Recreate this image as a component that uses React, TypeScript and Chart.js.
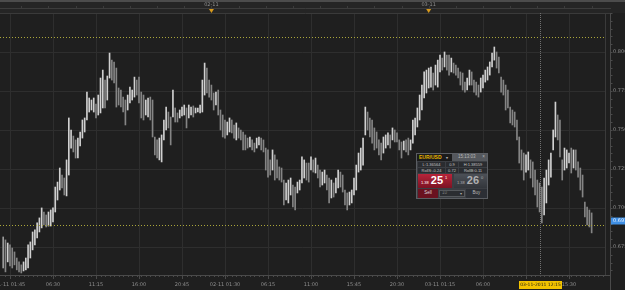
import React, { useEffect, useRef } from "react";
import { Chart, registerables } from "chart.js";
Chart.register(...registerables);

// 15-minute bars, bar 0 = 01-11 01:00
const highs = [
  0.6814, 0.6795, 0.6775, 0.6763, 0.6743, 0.6718, 0.6679, 0.6654, 0.6635, 0.6654,
  0.6679, 0.6763, 0.6782, 0.6846, 0.6859, 0.6904, 0.6936, 0.7000, 0.6974, 0.6955,
  0.6974, 0.6987, 0.7000, 0.7134, 0.7166, 0.7256, 0.7211, 0.7192, 0.7308, 0.7577,
  0.7500, 0.7461, 0.7436, 0.7448, 0.7487, 0.7564, 0.7577, 0.7743, 0.7705, 0.7692,
  0.7705, 0.7666, 0.7724, 0.7833, 0.7884, 0.7820, 0.7846, 0.7993, 0.7948, 0.7936,
  0.7897, 0.7769, 0.7756, 0.7711, 0.7692, 0.7724, 0.7775, 0.7756, 0.7839, 0.7820,
  0.7839, 0.7743, 0.7724, 0.7692, 0.7705, 0.7711, 0.7692, 0.7455, 0.7436, 0.7448,
  0.7468, 0.7564, 0.7647, 0.7615, 0.7583, 0.7756, 0.7641, 0.7609, 0.7628, 0.7647,
  0.7660, 0.7641, 0.7660, 0.7647, 0.7654, 0.7641, 0.7641, 0.7660, 0.7820, 0.7929,
  0.7897, 0.7820, 0.7788, 0.7737, 0.7743, 0.7756, 0.7628, 0.7596, 0.7564, 0.7551,
  0.7577, 0.7564, 0.7532, 0.7545, 0.7513, 0.7500, 0.7487, 0.7468, 0.7448, 0.7455,
  0.7436, 0.7416, 0.7448, 0.7455, 0.7448, 0.7436, 0.7384, 0.7372, 0.7308, 0.7372,
  0.7340, 0.7308, 0.7263, 0.7256, 0.7179, 0.7160, 0.7179, 0.7192, 0.7147, 0.7134,
  0.7166, 0.7179, 0.7327, 0.7308, 0.7288, 0.7288, 0.7327, 0.7308, 0.7320, 0.7275,
  0.7243, 0.7230, 0.7243, 0.7211, 0.7192, 0.7179, 0.7160, 0.7192, 0.7243, 0.7230,
  0.7211, 0.7115, 0.7096, 0.7102, 0.7115, 0.7192, 0.7275, 0.7352, 0.7384, 0.7448,
  0.7647, 0.7615, 0.7577, 0.7564, 0.7513, 0.7487, 0.7436, 0.7416, 0.7455, 0.7468,
  0.7481, 0.7468, 0.7513, 0.7500, 0.7481, 0.7436, 0.7423, 0.7429, 0.7436, 0.7448,
  0.7436, 0.7564, 0.7577, 0.7641, 0.7724, 0.7788, 0.7872, 0.7884, 0.7897, 0.7904,
  0.7865, 0.7916, 0.7948, 0.7980, 0.7961, 0.8000, 0.7980, 0.7980, 0.7961, 0.7929,
  0.7916, 0.7897, 0.7872, 0.7865, 0.7807, 0.7833, 0.7884, 0.7872, 0.7820, 0.7807,
  0.7788, 0.7833, 0.7852, 0.7884, 0.7904, 0.7936, 0.7993, 0.8032, 0.8000, 0.7968,
  0.7839, 0.7820, 0.7788, 0.7756, 0.7647, 0.7628, 0.7615, 0.7564, 0.7455, 0.7372,
  0.7352, 0.7340, 0.7359, 0.7308, 0.7295, 0.7243, 0.7179, 0.7160, 0.7134, 0.7192,
  0.7243, 0.7308, 0.7352, 0.7500, 0.7679, 0.7596, 0.7564, 0.7308, 0.7384, 0.7372,
  0.7352, 0.7384, 0.7372, 0.7372, 0.7295, 0.7256, 0.7211, 0.7038, 0.7006, 0.6987,
  0.6968,
];
const lows = [
  0.6615, 0.6590, 0.6654, 0.6628, 0.6615, 0.6635, 0.6603, 0.6590, 0.6583, 0.6596,
  0.6603, 0.6615, 0.6679, 0.6731, 0.6763, 0.6808, 0.6846, 0.6872, 0.6891, 0.6878,
  0.6884, 0.6884, 0.6910, 0.6974, 0.7051, 0.7115, 0.7128, 0.7083, 0.7077, 0.7211,
  0.7384, 0.7359, 0.7320, 0.7320, 0.7397, 0.7448, 0.7487, 0.7564, 0.7615, 0.7628,
  0.7615, 0.7577, 0.7596, 0.7609, 0.7641, 0.7641, 0.7692, 0.7833, 0.7820, 0.7801,
  0.7647, 0.7660, 0.7647, 0.7615, 0.7532, 0.7628, 0.7673, 0.7692, 0.7711, 0.7724,
  0.7673, 0.7577, 0.7564, 0.7596, 0.7583, 0.7564, 0.7455, 0.7340, 0.7320, 0.7308,
  0.7295, 0.7436, 0.7500, 0.7513, 0.7404, 0.7583, 0.7551, 0.7551, 0.7577, 0.7590,
  0.7596, 0.7513, 0.7577, 0.7596, 0.7583, 0.7609, 0.7615, 0.7609, 0.7615, 0.7724,
  0.7737, 0.7711, 0.7692, 0.7628, 0.7660, 0.7596, 0.7500, 0.7455, 0.7448, 0.7468,
  0.7487, 0.7481, 0.7448, 0.7436, 0.7448, 0.7436, 0.7372, 0.7372, 0.7384, 0.7391,
  0.7372, 0.7359, 0.7384, 0.7404, 0.7372, 0.7359, 0.7243, 0.7198, 0.7211, 0.7243,
  0.7179, 0.7192, 0.7179, 0.7166, 0.7019, 0.7051, 0.7032, 0.7083, 0.7006, 0.6987,
  0.7096, 0.7115, 0.7160, 0.7192, 0.7179, 0.7166, 0.7243, 0.7230, 0.7224, 0.7192,
  0.7134, 0.7147, 0.7160, 0.7115, 0.7032, 0.7064, 0.7070, 0.7096, 0.7128, 0.7134,
  0.7102, 0.7019, 0.6987, 0.7019, 0.7032, 0.7083, 0.7115, 0.7230, 0.7243, 0.7275,
  0.7468, 0.7500, 0.7455, 0.7416, 0.7372, 0.7384, 0.7340, 0.7308, 0.7352, 0.7384,
  0.7404, 0.7384, 0.7436, 0.7423, 0.7423, 0.7372, 0.7320, 0.7372, 0.7359, 0.7340,
  0.7372, 0.7416, 0.7468, 0.7519, 0.7564, 0.7628, 0.7705, 0.7737, 0.7769, 0.7775,
  0.7756, 0.7788, 0.7775, 0.7872, 0.7884, 0.7904, 0.7884, 0.7852, 0.7872, 0.7865,
  0.7852, 0.7833, 0.7788, 0.7756, 0.7743, 0.7756, 0.7788, 0.7788, 0.7743, 0.7724,
  0.7711, 0.7743, 0.7769, 0.7807, 0.7820, 0.7852, 0.7904, 0.7948, 0.7897, 0.7865,
  0.7743, 0.7724, 0.7628, 0.7641, 0.7545, 0.7532, 0.7519, 0.7436, 0.7288, 0.7243,
  0.7179, 0.7230, 0.7243, 0.7192, 0.7134, 0.7083, 0.7006, 0.6974, 0.6904, 0.6955,
  0.7032, 0.7147, 0.7198, 0.7372, 0.7455, 0.7436, 0.7327, 0.7179, 0.7243, 0.7256,
  0.7288, 0.7224, 0.7256, 0.7243, 0.7198, 0.7115, 0.7070, 0.6942, 0.6891, 0.6878,
  0.6840,
];

const timeTickBars = [3, 22, 41, 60, 79, 98, 117, 136, 155, 174, 193, 212, 231, 250];
const timeTickLabels = [
  "01-11 01:45", "06:30", "11:15", "16:00", "20:45", "02-11 01:30", "06:15",
  "11:00", "15:45", "20:30", "03-11 01:15", "06:00", "10:45", "15:30",
];
const priceTicks = [0.675, 0.7, 0.725, 0.75, 0.775, 0.8];
const priceTickLabels = ["0.675", "0.700", "0.725", "0.750", "0.775", "0.800"];
const dayBars = [92, 188];
const dayLabels = ["02-11", "03-11"];
const resistanceLevel = 0.8094;
const supportLevel = 0.6891;
const lastPrice = 0.6917;
const lastPriceLabel = "0.691";
const cursorBar = 237;
const cursorLabel = "03-11-2011 12:15";

const X_MIN = -1.41;
const X_MAX = 265.9;
const Y_MIN = 0.657;
const Y_MAX = 0.825;

const AX_FONT = '5px "DejaVu Sans", sans-serif';

const decorPlugin = {
  id: "decor",
  beforeDraw(chart: any) {
    const { ctx, chartArea: a, scales } = chart;
    const x = scales.x, y = scales.y;
    const W = chart.width, H = chart.height;
    ctx.save();
    ctx.fillStyle = "#1f1f1f";
    ctx.fillRect(0, 0, W, H);
    ctx.fillStyle = "#252525";
    ctx.fillRect(0, 0, W, a.top);
    ctx.fillStyle = "#4c4c4c";
    ctx.fillRect(0, 0, W, 2);
    ctx.lineWidth = 1;
    const line = (x1: number, y1: number, x2: number, y2: number) => {
      ctx.beginPath();
      ctx.moveTo(x1, y1);
      ctx.lineTo(x2, y2);
      ctx.stroke();
    };
    // grid
    ctx.strokeStyle = "#2e2e2e";
    timeTickBars.forEach((b) => {
      const px = Math.round(x.getPixelForValue(b)) + 0.5;
      line(px, a.top, px, a.bottom);
    });
    priceTicks.forEach((p) => {
      const py = Math.round(y.getPixelForValue(p)) + 0.5;
      line(a.left, py, a.right, py);
    });
    // frame
    ctx.strokeStyle = "#3a3a3a";
    line(0, a.top + 0.5, a.right + 6, a.top + 0.5);
    line(a.right + 0.5, a.top, a.right + 0.5, a.bottom);
    // top time strip
    ctx.strokeStyle = "#3c3c3c";
    line(0, 8.5, a.right + 6, 8.5);
    for (let b = 8; b < X_MAX; b += 12) {
      const px = Math.round(x.getPixelForValue(b)) + 0.5;
      line(px, 6, px, 8);
    }
    // right axis
    const ax = a.right + 5.5;
    ctx.strokeStyle = "#4a4a4a";
    line(ax, a.top, ax, H);
    for (let p = 0.66; p <= Y_MAX + 1e-9; p += 0.005) {
      const py = Math.round(y.getPixelForValue(p)) + 0.5;
      if (py < a.top || py > H) continue;
      line(ax, py, ax + 2, py);
    }
    // bottom axis
    line(0, a.bottom + 0.5, ax, a.bottom + 0.5);
    for (let b = 1; b < X_MAX; b += 2) {
      const px = Math.round(x.getPixelForValue(b)) + 0.5;
      line(px, a.bottom + 1, px, a.bottom + 2);
    }
    timeTickBars.forEach((b) => {
      const px = Math.round(x.getPixelForValue(b)) + 0.5;
      line(px, a.bottom + 1, px, a.bottom + 4);
    });
    ctx.restore();
  },
  afterDatasetsDraw(chart: any) {
    const { ctx, chartArea: a, scales } = chart;
    const x = scales.x, y = scales.y;
    const W = chart.width;
    ctx.save();
    ctx.lineWidth = 1;
    // horizontal level lines
    ctx.strokeStyle = "#aaa63a";
    ctx.setLineDash([1, 2]);
    [resistanceLevel, supportLevel].forEach((p) => {
      const py = Math.round(y.getPixelForValue(p)) + 0.5;
      ctx.beginPath();
      ctx.moveTo(a.left, py);
      ctx.lineTo(a.right, py);
      ctx.stroke();
    });
    // cursor line
    ctx.strokeStyle = "#707070";
    ctx.setLineDash([1, 1]);
    const cx = Math.round(x.getPixelForValue(cursorBar)) + 0.5;
    ctx.beginPath();
    ctx.moveTo(cx, a.top);
    ctx.lineTo(cx, a.bottom);
    ctx.stroke();
    ctx.setLineDash([]);

    ctx.font = AX_FONT;
    ctx.fillStyle = "#8e8e8e";
    // price labels
    ctx.textAlign = "left";
    ctx.textBaseline = "middle";
    priceTicks.forEach((p, i) => {
      ctx.fillText(priceTickLabels[i], a.right + 8, y.getPixelForValue(p));
    });
    // time labels
    ctx.textAlign = "center";
    timeTickBars.forEach((b, i) => {
      ctx.fillText(timeTickLabels[i], x.getPixelForValue(b), a.bottom + 10);
    });
    // day labels and markers
    dayBars.forEach((b, i) => {
      const px = x.getPixelForValue(b);
      ctx.fillStyle = "#8e8e8e";
      ctx.fillText(dayLabels[i], px, 4.5);
      ctx.fillStyle = "#d89a1c";
      ctx.beginPath();
      ctx.moveTo(px - 2.5, 9);
      ctx.lineTo(px + 2.5, 9);
      ctx.lineTo(px, 13);
      ctx.closePath();
      ctx.fill();
    });
    // cursor time label
    ctx.font = '4.5px "DejaVu Sans", sans-serif';
    const tw = ctx.measureText(cursorLabel).width + 2;
    ctx.fillStyle = "#f2c300";
    ctx.fillRect(Math.round(cx - tw / 2), a.bottom + 6, Math.round(tw), 8);
    ctx.fillStyle = "#1a1a1a";
    ctx.fillText(cursorLabel, cx, a.bottom + 10);
    // last price tag
    ctx.font = AX_FONT;
    const ly = y.getPixelForValue(lastPrice);
    ctx.fillStyle = "#3f8fe4";
    ctx.fillRect(a.right + 6, Math.round(ly) - 3.5, W - a.right - 6, 7);
    ctx.fillStyle = "#e6f0ff";
    ctx.textAlign = "left";
    ctx.fillText(lastPriceLabel, a.right + 8, ly);
    ctx.restore();
  },
};

function Widget() {
  const base: React.CSSProperties = {
    position: "absolute",
    fontFamily: '"Liberation Sans", Arial, sans-serif',
    lineHeight: 1,
    display: "flex",
    alignItems: "center",
    boxSizing: "border-box",
    whiteSpace: "nowrap",
    overflow: "hidden",
  };
  const cell = (left: number, top: number, width: number, text: string) => (
    <div
      style={{
        ...base,
        left, top, width, height: 5,
        background: "#2a2c30",
        color: "#c4c4c4",
        fontSize: 4,
        justifyContent: "center",
      }}
    >
      {text}
    </div>
  );
  return (
    <div
      style={{
        position: "absolute",
        left: 416,
        top: 153,
        width: 72,
        height: 46,
        background: "#3b3e43",
        border: "1px solid #5b5e63",
        boxSizing: "border-box",
      }}
    >
      <div style={{ ...base, left: 0, top: 0, width: 35, height: 7, background: "#1b1b1b", color: "#e6b300", fontSize: 5, fontWeight: 700, paddingLeft: 2 }}>
        EUR/USD<span style={{ color: "#aaa", fontSize: 4, marginLeft: 4 }}>▾</span>
      </div>
      <div style={{ ...base, left: 35, top: 0, width: 35, height: 7, background: "#55585d", color: "#b8b8b8", fontSize: 4.5, justifyContent: "space-between", padding: "0 2px 0 6px" }}>
        <span>15:13:03</span><span>×</span>
      </div>
      {cell(1, 8, 27, "L:1.36564")}
      {cell(29, 8, 12, "0.9")}
      {cell(42, 8, 28, "H:1.38559")}
      {cell(1, 14, 27, "RollS:-0.24")}
      {cell(29, 14, 12, "0.72")}
      {cell(42, 14, 28, "RollB:0.11")}
      <div style={{ ...base, left: 1, top: 20, width: 34, height: 14, background: "linear-gradient(#b8243a, #7c1323)", color: "#fff", alignItems: "flex-end", paddingBottom: 2, paddingLeft: 3 }}>
        <span style={{ fontSize: 4, marginRight: 2, marginBottom: 1 }}>1.38</span>
        <span style={{ fontSize: 11, fontWeight: 700 }}>25</span>
        <span style={{ fontSize: 4, alignSelf: "flex-start", marginTop: 2, marginLeft: 2 }}>1</span>
      </div>
      <div style={{ ...base, left: 37, top: 20, width: 33, height: 14, background: "linear-gradient(#4c5057, #33363b)", color: "#b0b0b0", alignItems: "flex-end", paddingBottom: 2, paddingLeft: 3 }}>
        <span style={{ fontSize: 4, marginRight: 2, marginBottom: 1 }}>1.38</span>
        <span style={{ fontSize: 11, fontWeight: 700 }}>26</span>
        <span style={{ fontSize: 4, alignSelf: "flex-start", marginTop: 2, marginLeft: 2 }}>0</span>
      </div>
      <div style={{ ...base, left: 1, top: 35, width: 20, height: 9, background: "#6a1220", color: "#ddd", fontSize: 4.5, justifyContent: "center" }}>Sell</div>
      <div style={{ ...base, left: 22, top: 36, width: 26, height: 7, background: "#2b2d31", border: "1px solid #55585c", color: "#7a7a7a", fontSize: 4.5, justifyContent: "space-between", padding: "0 2px" }}>
        <span>10</span><span style={{ color: "#aaa", fontSize: 4 }}>▾</span>
      </div>
      <div style={{ ...base, left: 49, top: 35, width: 21, height: 9, background: "#2c2f35", color: "#b8b8b8", fontSize: 4.5, justifyContent: "center" }}>Buy</div>
    </div>
  );
}

export default function App() {
  const ref = useRef<HTMLCanvasElement | null>(null);
  useEffect(() => {
    if (!ref.current) return;
    const colors = highs.map((h, i) => {
      if (i === 0) return "#9a9a9a";
      const m = (h + lows[i]) / 2;
      const pm = (highs[i - 1] + lows[i - 1]) / 2;
      return m >= pm ? "#d0d0d0" : "#858585";
    });
    const chart = new Chart(ref.current, {
      type: "bar",
      data: {
        datasets: [
          {
            data: highs.map((h, i) => ({ x: i, y: [lows[i], h] })) as any,
            backgroundColor: colors,
            borderWidth: 0,
            barThickness: 1,
            grouped: false,
          } as any,
        ],
      },
      options: {
        animation: false,
        responsive: false,
        devicePixelRatio: 1,
        layout: { padding: { left: 0, right: 20, top: 13, bottom: 15 } },
        plugins: { legend: { display: false }, tooltip: { enabled: false } },
        scales: {
          x: { type: "linear", min: X_MIN, max: X_MAX, display: false, offset: false, bounds: "ticks" } as any,
          y: { type: "linear", min: Y_MIN, max: Y_MAX, display: false },
        },
      },
      plugins: [decorPlugin],
    });
    return () => chart.destroy();
  }, []);
  return (
    <div style={{ position: "fixed", left: 0, top: 0, width: 625, height: 290, background: "#1f1f1f", overflow: "hidden" }}>
      <canvas ref={ref} width={625} height={290} style={{ display: "block" }} />
      <Widget />
    </div>
  );
}
